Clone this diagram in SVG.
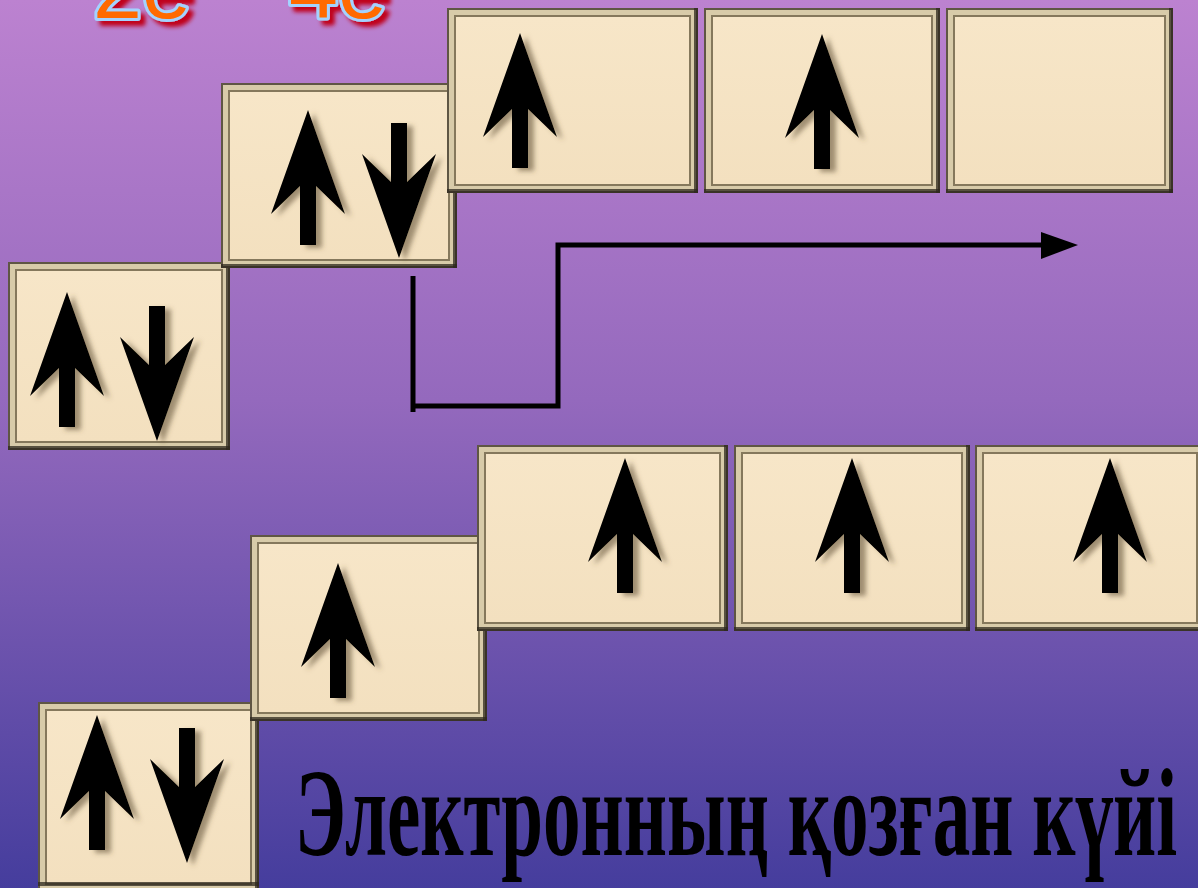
<svg xmlns="http://www.w3.org/2000/svg" width="1198" height="888" viewBox="0 0 1198 888">
<defs>
<linearGradient id="bg" x1="0" y1="0" x2="0" y2="1">
<stop offset="0" stop-color="#bc82d0"/>
<stop offset="0.45" stop-color="#9469bd"/>
<stop offset="1" stop-color="#453d9d"/>
</linearGradient>
<linearGradient id="face" x1="0" y1="0" x2="0" y2="1">
<stop offset="0" stop-color="#f7e6c8"/>
<stop offset="1" stop-color="#f3e0bf"/>
</linearGradient>
<filter id="sh" x="-20%" y="-20%" width="150%" height="150%">
<feGaussianBlur in="SourceAlpha" stdDeviation="2.5"/>
<feOffset dx="6" dy="3" result="b"/>
<feFlood flood-color="#5a4a30" flood-opacity="0.55"/>
<feComposite in2="b" operator="in"/>
<feMerge><feMergeNode/><feMergeNode in="SourceGraphic"/></feMerge>
</filter>
<filter id="tsh" x="-20%" y="-50%" width="150%" height="200%">
<feOffset in="SourceAlpha" dx="5" dy="5" result="o"/>
<feGaussianBlur in="o" stdDeviation="2" result="b"/>
<feFlood flood-color="#c0001a"/>
<feComposite in2="b" operator="in"/>
<feMerge><feMergeNode/><feMergeNode in="SourceGraphic"/></feMerge>
</filter>
<polygon id="up" points="0,0 37,104 8,76 8,135 -8,135 -8,76 -37,104" fill="#000"/>
</defs>
<style>
.o{fill:#5f5644}
.l{fill:#d8cba9}
.d{fill:#85785c}
.f{fill:url(#face)}
.r{fill:#2e281d;opacity:0.75}
.top{font-family:"Liberation Sans",Arial,sans-serif;font-size:88px;fill:#ff6a00;stroke:#a3d2ff;stroke-width:6;paint-order:stroke;stroke-linejoin:round}
.title{font-family:"Liberation Serif","Times New Roman",serif;font-size:124px;font-weight:bold;fill:#000}
.conn{fill:none;stroke:#000;stroke-width:5}
</style>
<rect x="0" y="0" width="1198" height="888" fill="url(#bg)"/>

<g id="header" filter="url(#tsh)">
<text class="top" x="93" y="18">2e</text>
<text class="top" x="289" y="18">4e</text>
</g>

<!-- upper configuration -->
<g id="box-1s-a">
<rect class="o" x="8" y="262" width="222" height="188"/>
<rect class="l" x="10" y="264" width="218" height="184"/>
<rect class="d" x="15" y="269" width="208" height="174"/>
<rect class="f" x="17" y="271" width="204" height="170"/>
<rect class="r" x="226" y="262" width="4" height="188"/>
<rect class="r" x="8" y="446" width="222" height="4"/>
<g filter="url(#sh)">
<use href="#up" transform="translate(67,292)"/>
<use href="#up" transform="translate(157,441) scale(1,-1)"/>
</g>
</g>
<g id="box-2s-a">
<rect class="o" x="221" y="83" width="236" height="185"/>
<rect class="l" x="223" y="85" width="232" height="181"/>
<rect class="d" x="228" y="90" width="222" height="171"/>
<rect class="f" x="230" y="92" width="218" height="167"/>
<rect class="r" x="453" y="83" width="4" height="185"/>
<rect class="r" x="221" y="264" width="236" height="4"/>
<g filter="url(#sh)">
<use href="#up" transform="translate(308,110)"/>
<use href="#up" transform="translate(399,258) scale(1,-1)"/>
</g>
</g>
<g id="box-2p1-a">
<rect class="o" x="447" y="8" width="251" height="185"/>
<rect class="l" x="449" y="10" width="247" height="181"/>
<rect class="d" x="454" y="15" width="237" height="171"/>
<rect class="f" x="456" y="17" width="233" height="167"/>
<rect class="r" x="694" y="8" width="4" height="185"/>
<rect class="r" x="447" y="189" width="251" height="4"/>
<g filter="url(#sh)"><use href="#up" transform="translate(520,33)"/></g>
</g>
<g id="box-2p2-a">
<rect class="o" x="704" y="8" width="236" height="185"/>
<rect class="l" x="706" y="10" width="232" height="181"/>
<rect class="d" x="711" y="15" width="222" height="171"/>
<rect class="f" x="713" y="17" width="218" height="167"/>
<rect class="r" x="936" y="8" width="4" height="185"/>
<rect class="r" x="704" y="189" width="236" height="4"/>
<g filter="url(#sh)"><use href="#up" transform="translate(822,34)"/></g>
</g>
<g id="box-2p3-a">
<rect class="o" x="946" y="8" width="227" height="185"/>
<rect class="l" x="948" y="10" width="223" height="181"/>
<rect class="d" x="953" y="15" width="213" height="171"/>
<rect class="f" x="955" y="17" width="209" height="167"/>
<rect class="r" x="1169" y="8" width="4" height="185"/>
<rect class="r" x="946" y="189" width="227" height="4"/>
</g>

<!-- lower configuration -->
<g id="box-1s-b">
<rect class="o" x="38" y="702" width="221" height="190"/>
<rect class="l" x="40" y="704" width="217" height="186"/>
<rect class="d" x="45" y="709" width="207" height="176"/>
<rect class="f" x="47" y="711" width="203" height="172"/>
<rect class="r" x="255" y="702" width="4" height="190"/>
<rect class="r" x="38" y="882" width="221" height="4"/>
<g filter="url(#sh)">
<use href="#up" transform="translate(97,715)"/>
<use href="#up" transform="translate(187,863) scale(1,-1)"/>
</g>
</g>
<g id="box-2s-b">
<rect class="o" x="250" y="535" width="237" height="186"/>
<rect class="l" x="252" y="537" width="233" height="182"/>
<rect class="d" x="257" y="542" width="223" height="172"/>
<rect class="f" x="259" y="544" width="219" height="168"/>
<rect class="r" x="483" y="535" width="4" height="186"/>
<rect class="r" x="250" y="717" width="237" height="4"/>
<g filter="url(#sh)"><use href="#up" transform="translate(338,563)"/></g>
</g>
<g id="box-2p1-b">
<rect class="o" x="477" y="445" width="251" height="186"/>
<rect class="l" x="479" y="447" width="247" height="182"/>
<rect class="d" x="484" y="452" width="237" height="172"/>
<rect class="f" x="486" y="454" width="233" height="168"/>
<rect class="r" x="724" y="445" width="4" height="186"/>
<rect class="r" x="477" y="627" width="251" height="4"/>
<g filter="url(#sh)"><use href="#up" transform="translate(625,458)"/></g>
</g>
<g id="box-2p2-b">
<rect class="o" x="734" y="445" width="236" height="186"/>
<rect class="l" x="736" y="447" width="232" height="182"/>
<rect class="d" x="741" y="452" width="222" height="172"/>
<rect class="f" x="743" y="454" width="218" height="168"/>
<rect class="r" x="966" y="445" width="4" height="186"/>
<rect class="r" x="734" y="627" width="236" height="4"/>
<g filter="url(#sh)"><use href="#up" transform="translate(852,458)"/></g>
</g>
<g id="box-2p3-b">
<rect class="o" x="975" y="445" width="230" height="186"/>
<rect class="l" x="977" y="447" width="226" height="182"/>
<rect class="d" x="982" y="452" width="216" height="172"/>
<rect class="f" x="984" y="454" width="212" height="168"/>
<rect class="r" x="975" y="627" width="230" height="4"/>
<g filter="url(#sh)"><use href="#up" transform="translate(1110,458)"/></g>
</g>

<g id="connectors">
<path class="conn" d="M413,276 V412"/>
<path class="conn" d="M413,406 H558 V245 H1045"/>
<polygon points="1041,232 1078,245 1041,259" fill="#000"/>
</g>

<g id="caption">
<text class="title" x="295" y="855" textLength="882" lengthAdjust="spacingAndGlyphs">Электронның қозған күйі</text>
</g>
</svg>
